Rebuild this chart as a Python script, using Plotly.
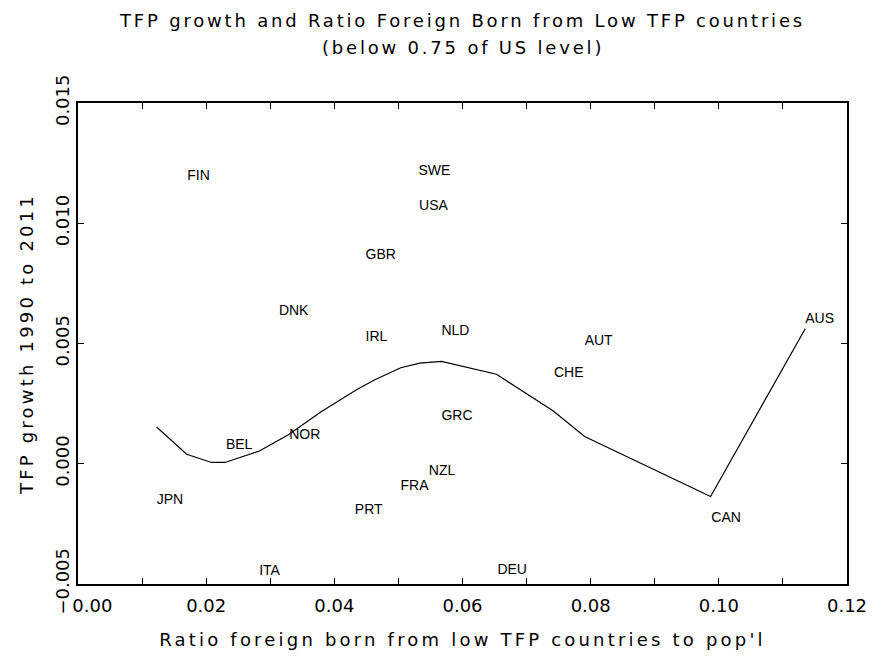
import plotly.graph_objects as go

# Country labels: x = ratio foreign born from low-TFP countries, y = TFP growth
countries = ["FIN", "SWE", "USA", "GBR", "DNK", "IRL", "NLD", "GRC", "NOR", "BEL",
             "NZL", "FRA", "JPN", "PRT", "ITA", "DEU", "AUS", "AUT", "CHE", "CAN"]
ratio_foreign = [0.01705, 0.05313, 0.05322, 0.04487, 0.03135, 0.04487, 0.05672, 0.05672,
                 0.03295, 0.02308, 0.05474, 0.05032, 0.01227, 0.04320, 0.02827, 0.06545,
                 0.11348, 0.07906, 0.07428, 0.09882]
tfp_growth = [0.011946, 0.012170, 0.010699, 0.008678, 0.006320, 0.005268, 0.005489, 0.001954,
              0.001193, 0.000748, -0.000333, -0.000956, -0.001509, -0.001963, -0.004490, -0.004457,
              0.006008, 0.005102, 0.003755, -0.002274]

# Smoothed fit line
fit_x = [0.01227, 0.01695, 0.02085, 0.02292, 0.02823, 0.03283, 0.03800, 0.04346, 0.04632,
         0.05037, 0.05333, 0.05672, 0.06530, 0.07412, 0.07906, 0.09871, 0.11348]
fit_y = [0.001526, 0.000395, 0.000054, 0.000054, 0.000520, 0.001206, 0.002175, 0.003077, 0.003493,
         0.003992, 0.004187, 0.004254, 0.003721, 0.002204, 0.001135, -0.001360, 0.005613]

x_tickvals = [0.00, 0.02, 0.04, 0.06, 0.08, 0.10, 0.12]
x_ticktext = ["0.00", "0.02", "0.04", "0.06", "0.08", "0.10", "0.12"]
y_tickvals = [-0.005, 0.000, 0.005, 0.010, 0.015]
y_ticktext = ["\u22120.005", "0.000", "0.005", "0.010", "0.015"]

title_text = "TFP growth and Ratio Foreign Born from Low TFP countries"
subtitle_text = "(below 0.75 of US level)"
x_title = "Ratio foreign born from low TFP countries to pop'l"
y_title = "TFP growth 1990 to 2011"

FONT = "DejaVu Sans"
LBL_FONT = "Liberation Sans, Arial, sans-serif"
W, H = 872, 657
ML, MR, MT, MB = 78, 25, 103, 73


def spaced(s, ls):
    return '<span style="letter-spacing:%.2fpx">%s</span>' % (ls, s)


fig = go.Figure()
fig.add_trace(go.Scatter(x=fit_x, y=fit_y, mode="lines",
                         line=dict(color="black", width=1.2), hoverinfo="skip",
                         showlegend=False))
fig.add_trace(go.Scatter(x=ratio_foreign, y=tfp_growth, mode="text", text=countries,
                         textposition="middle right",
                         marker=dict(size=0),
                         textfont=dict(family=LBL_FONT, size=14, color="black"),
                         showlegend=False))

# shift first x tick label right (it starts at the axis corner in the original)
xt = list(x_ticktext)
xt[0] = "\u00a0" * 5 + xt[0]

axis_common = dict(showline=True, linecolor="black", linewidth=2, mirror="ticks",
                   ticks="inside", ticklen=6, tickwidth=1, tickcolor="black",
                   showgrid=False, zeroline=False, automargin=False,
                   tickfont=dict(family=FONT, size=18, color="black"))

fig.update_layout(
    width=W, height=H,
    margin=dict(l=ML, r=MR, t=MT, b=MB, autoexpand=False),
    paper_bgcolor="white", plot_bgcolor="white",
    title=dict(text=spaced(title_text, 2.8),
               x=(ML + W - MR) / 2 / W, xanchor="center",
               y=1 - 21 / H, yanchor="middle", yref="container",
               font=dict(family=FONT, size=18, color="black")),
    xaxis=dict(range=[0, 0.12], tickvals=x_tickvals, ticktext=xt,
               ticklabelstandoff=4,
               minor=dict(ticks="inside", ticklen=6, tickwidth=1, tickcolor="black", dtick=0.01,
                          tick0=0, showgrid=False),
               title=dict(text=spaced(x_title, 3.2), standoff=19,
                          font=dict(family=FONT, size=18, color="black")),
               **axis_common),
    yaxis=dict(range=[-0.005, 0.015], tickvals=y_tickvals, ticktext=y_ticktext, tickangle=-90,
               ticklabelstandoff=0,
               title=dict(text=spaced(y_title, 3.2), standoff=13,
                          font=dict(family=FONT, size=18, color="black")),
               **axis_common),
)

fig.add_annotation(text=spaced(subtitle_text, 2.8), xref="paper", yref="paper",
                   x=0.5, y=1 + (MT - 47) / (H - MT - MB), xanchor="center", yanchor="middle",
                   showarrow=False, font=dict(family=FONT, size=18, color="black"))

fig.write_html("out.html", config={"displayModeBar": False},
               post_script="document.body.style.margin='0';document.body.style.padding='0';")
